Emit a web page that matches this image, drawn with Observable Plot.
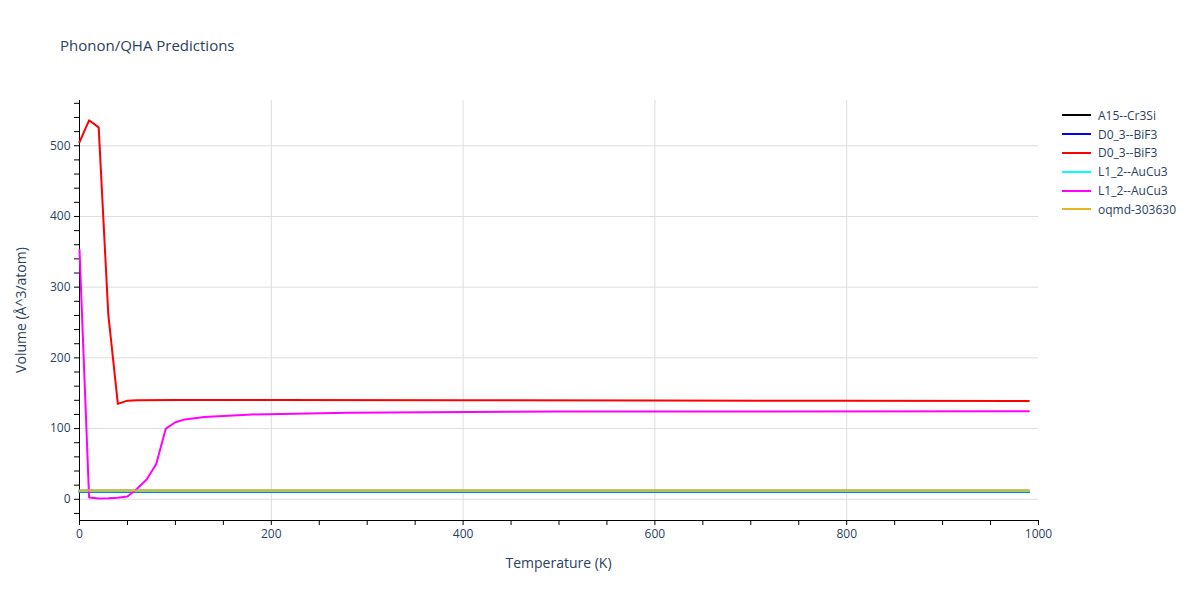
<!DOCTYPE html>
<html>
<head>
<meta charset="utf-8">
<script src="https://cdn.jsdelivr.net/npm/d3@7"></script>
<script src="https://cdn.jsdelivr.net/npm/@observablehq/plot@0.6"></script>
<style>
  html, body { margin: 0; padding: 0; background: #fff; }
  #wrap { position: relative; width: 1200px; height: 600px; font-family: "Open Sans", sans-serif; color: #2a3f5f; }
  #title { position: absolute; left: 60px; top: 35px; font-size: 15px; color: #2a3f5f; }
  #legend { position: absolute; left: 1062px; top: 106px; font-size: 12px; color: #2a3f5f; }
  .li { height: 18.8px; display: flex; align-items: center; }
  .sw { width: 29px; height: 2px; margin-right: 7px; }
  #xlabel { position: absolute; left: 0; width: 1117px; text-align: center; top: 553px; font-size: 14px; }
  #ylabel { position: absolute; left: 20px; top: 310px; font-size: 14px; transform: translate(-50%, -50%) rotate(-90deg); white-space: nowrap; }
</style>
</head>
<body>
<div id="wrap">
  <div id="chart"></div>
  <div id="title">Phonon/QHA Predictions</div>
  <div id="legend"></div>
  <div id="xlabel">Temperature (K)</div>
  <div id="ylabel">Volume (Å^3/atom)</div>
</div>
<script>
// ---- data ----
const seriesNames = ["A15--Cr3Si", "D0_3--BiF3", "D0_3--BiF3", "L1_2--AuCu3", "L1_2--AuCu3", "oqmd-303630"];
const seriesColors = ["#000000", "#0000ff", "#ff0000", "#00ffff", "#ff00ff", "#e6b422"];

const tempsFlat = [0, 990];
const volA15 = [12.2, 12.2];
const volD03a = [10.3, 10.3];
const volL12a = [11.0, 11.0];
const volOqmd = [12.4, 12.4];

const tempsD03b = [0, 10, 20, 30, 40, 50, 60, 100, 200, 400, 600, 800, 990];
const volD03b = [505, 536, 526, 262, 135, 139.5, 140, 140.3, 140.3, 140, 139.6, 139.3, 139];

const tempsL12b = [0, 10, 20, 30, 40, 50, 60, 70, 80, 90, 100, 110, 130, 180, 280, 500, 990];
const volL12b = [353, 2.5, 1.2, 1.5, 2.2, 4, 15, 28, 50, 100, 109, 113, 116.5, 120, 122.5, 124, 124.5];

const xTicks = [0, 200, 400, 600, 800, 1000];
const yTicks = [0, 100, 200, 300, 400, 500];

// ---- build table ----
const seriesData = [
  [tempsFlat, volA15],
  [tempsFlat, volD03a],
  [tempsD03b, volD03b],
  [tempsFlat, volL12a],
  [tempsL12b, volL12b],
  [tempsFlat, volOqmd]
];
const rows = [];
seriesData.forEach(([ts, vs], i) => ts.forEach((t, j) => rows.push({s: i, t, v: vs[j]})));

const yMin = -30, yMax = 564;
const xMinor = d3.range(0, 1001, 50);
const yMinor = d3.range(-20, 561, 20);

const chart = Plot.plot({
  width: 1200,
  height: 600,
  marginLeft: 79,
  marginRight: 162,
  marginTop: 100,
  marginBottom: 80,
  style: {fontFamily: "Open Sans, sans-serif", fontSize: "12px", color: "#2a3f5f", background: "#fff"},
  x: {domain: [0, 1000], label: null},
  y: {domain: [yMin, yMax], label: null},
  color: {domain: d3.range(6), range: seriesColors},
  marks: [
    Plot.gridX(xTicks.slice(1, -1), {stroke: "#dddddd", strokeOpacity: 1}),
    Plot.gridY(yTicks, {stroke: "#dddddd", strokeOpacity: 1}),
    Plot.axisX(xMinor, {tickSize: 5, tickPadding: 4, tickFormat: d => d % 200 === 0 ? String(d) : "", stroke: "#000", fill: "#2a3f5f", label: null, fontSize: 12}),
    Plot.axisY(yMinor, {tickSize: 5, tickPadding: 4, tickFormat: d => d % 100 === 0 ? String(d) : "", stroke: "#000", fill: "#2a3f5f", label: null, fontSize: 12}),
    Plot.ruleX([0], {stroke: "#000"}),
    Plot.ruleY([yMin], {stroke: "#000"}),
    Plot.line(rows, {x: "t", y: "v", z: "s", stroke: "s", strokeWidth: 2, curve: "linear"})
  ]
});
document.getElementById("chart").appendChild(chart);

const legend = document.getElementById("legend");
seriesNames.forEach((name, i) => {
  const row = document.createElement("div");
  row.className = "li";
  row.innerHTML = `<div class="sw" style="background:${seriesColors[i]}"></div><span>${name}</span>`;
  legend.appendChild(row);
});
</script>
</body>
</html>
